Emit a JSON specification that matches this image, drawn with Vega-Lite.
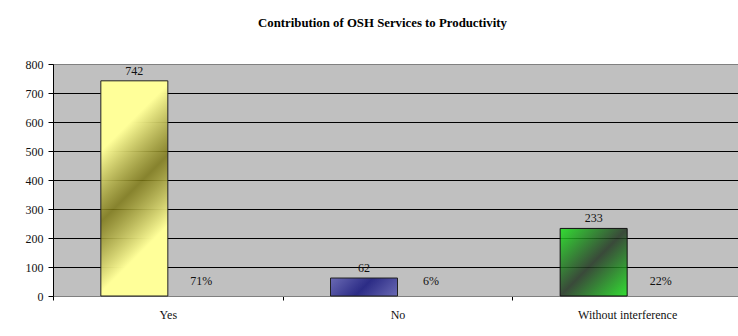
{
  "$schema": "https://vega.github.io/schema/vega-lite/v6.json",
  "width": 685,
  "height": 232,
  "autosize": {"type": "none"},
  "padding": {"left": 53, "top": 64, "right": 0, "bottom": 40},
  "background": "white",
  "config": {
    "font": "'Liberation Serif', 'Times New Roman', serif",
    "view": {"fill": "#c0c0c0", "stroke": "#808080", "strokeWidth": 1}
  },
  "title": {
    "text": "Contribution of OSH Services to Productivity",
    "font": "'Liberation Serif', 'Times New Roman', serif",
    "fontSize": 12.8,
    "fontWeight": "bold",
    "color": "#000000",
    "anchor": "middle",
    "dx": -13,
    "offset": 28
  },
  "data": {
    "values": [
      {"answer": "Yes", "count": 742, "share": "71%"},
      {"answer": "No", "count": 62, "share": "6%"},
      {"answer": "Without interference", "count": 233, "share": "22%"}
    ]
  },
  "encoding": {
    "x": {
      "field": "answer",
      "type": "nominal",
      "sort": null,
      "scale": {"range": [0, 689], "paddingInner": 0, "paddingOuter": 0},
      "axis": {
        "title": null,
        "labelAngle": 0,
        "labelFont": "'Liberation Serif', 'Times New Roman', serif",
        "labelFontSize": 12,
        "labelColor": "#111111",
        "labelPadding": 9,
        "tickBand": "extent",
        "tickSize": 4,
        "tickColor": "#000000",
        "domainColor": "#808080",
        "grid": false
      }
    },
    "y": {
      "field": "count",
      "type": "quantitative",
      "scale": {"domain": [0, 800]},
      "axis": {
        "title": null,
        "values": [0, 100, 200, 300, 400, 500, 600, 700, 800],
        "labelFont": "'Liberation Serif', 'Times New Roman', serif",
        "labelFontSize": 12,
        "labelColor": "#111111",
        "labelPadding": 5,
        "tickSize": 5,
        "tickColor": "#000000",
        "domainColor": "#000000",
        "grid": true,
        "gridColor": {
          "condition": {"test": "datum.value === 800 || datum.value === 0", "value": "#808080"},
          "value": "#000000"
        },
        "gridOpacity": 1
      }
    }
  },
  "layer": [
    {
      "transform": [{"filter": "datum.answer === 'Yes'"}],
      "mark": {
        "type": "bar",
        "width": 67,
        "xOffset": -33.5,
        "stroke": "#222222",
        "strokeWidth": 1,
        "fill": {
          "gradient": "linear",
          "x1": 0, "y1": 0, "x2": 0.3726, "y2": 1.1956,
          "stops": [
            {"offset": 0, "color": "#ffff99"},
            {"offset": 0.25, "color": "#ffff99"},
            {"offset": 0.5, "color": "rgba(125,120,20,0.85)"},
            {"offset": 0.75, "color": "#ffff99"},
            {"offset": 1, "color": "#ffff99"}
          ]
        }
      }
    },
    {
      "transform": [{"filter": "datum.answer === 'No'"}],
      "mark": {
        "type": "bar",
        "width": 67,
        "xOffset": -33.5,
        "stroke": "#222222",
        "strokeWidth": 1,
        "fill": {
          "gradient": "linear",
          "x1": 0, "y1": 0, "x2": 1.183, "y2": 0.318,
          "stops": [
            {"offset": 0, "color": "#6a6ab4"},
            {"offset": 0.5, "color": "#2c2c86"},
            {"offset": 1, "color": "#6a6ab4"}
          ]
        }
      }
    },
    {
      "transform": [{"filter": "datum.answer === 'Without interference'"}],
      "mark": {
        "type": "bar",
        "width": 67,
        "xOffset": -33.5,
        "stroke": "#111111",
        "strokeWidth": 1,
        "fill": {
          "gradient": "linear",
          "x1": 0, "y1": 0, "x2": 1, "y2": 1,
          "stops": [
            {"offset": 0, "color": "rgba(26,226,26,0.85)"},
            {"offset": 0.5, "color": "rgba(34,53,34,0.85)"},
            {"offset": 1, "color": "rgba(26,226,26,0.85)"}
          ]
        }
      }
    },
    {
      "mark": {
        "type": "text",
        "xOffset": -33.5,
        "dy": -3,
        "baseline": "bottom",
        "fontSize": 12,
        "color": "#111111"
      },
      "encoding": {"text": {"field": "count", "type": "quantitative"}}
    },
    {
      "mark": {
        "type": "text",
        "xOffset": 33.5,
        "dy": -15,
        "baseline": "middle",
        "fontSize": 12,
        "color": "#111111"
      },
      "encoding": {
        "y": {"datum": 0, "type": "quantitative"},
        "text": {"field": "share", "type": "nominal"}
      }
    }
  ]
}
